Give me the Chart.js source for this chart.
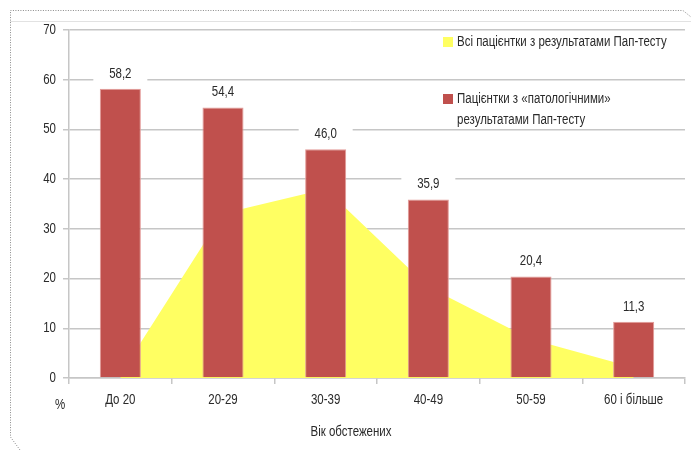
<!DOCTYPE html>
<html>
<head>
<meta charset="utf-8">
<script src="https://cdn.jsdelivr.net/npm/chart.js@4/dist/chart.umd.min.js"></script>
<style>
  html, body { margin: 0; padding: 0; background: #fff; }
  #wrap { width: 691px; height: 450px; }
</style>
</head>
<body>
<div id="wrap"><canvas id="c" width="691" height="450"></canvas></div>
<script>
// Age groups and shares (%) of screened patients
const categories = ['До 20', '20-29', '30-39', '40-49', '50-59', '60 і більше'];
const allPatients = [0.7, 33.1, 38.0, 18.3, 7.8, 2.1];
const abnormalPatients = [58.2, 54.4, 46.0, 35.9, 20.4, 11.3];
const yTicks = [0, 10, 20, 30, 40, 50, 60, 70];
const seriesNames = [
  'Всі пацієнтки з результатами Пап-тесту',
  'Пацієнтки з «патологічними» результатами Пап-тесту'
];
const legendLines = [
  ['Всі пацієнтки з результатами Пап-тесту'],
  ['Пацієнтки з «патологічними»', 'результатами Пап-тесту']
];
const xTitle = 'Вік обстежених';
const yUnit = '%';

const FONT = '14px "Liberation Sans", Arial, sans-serif';
const SQUEEZE = 0.82;          // narrow, condensed-looking lettering
const TEXT = '#2a2a2a';
const GRID = '#c6c6c6';
const YELLOW = '#ffff62';
const RED = '#c0504d';

function condText(ctx, text, x, y, align) {
  ctx.save();
  ctx.translate(x, y);
  ctx.scale(SQUEEZE, 1);
  ctx.textAlign = align;
  ctx.textBaseline = 'middle';
  ctx.fillText(text, 0, 0);
  ctx.restore();
}

// Value labels above bars, each on a white plate
const valueLabels = {
  id: 'valueLabels',
  afterDatasetsDraw(chart) {
    const ctx = chart.ctx;
    const meta = chart.getDatasetMeta(0);
    ctx.save();
    ctx.font = FONT;
    meta.data.forEach((bar, i) => {
      const v = chart.data.datasets[0].data[i];
      const y = bar.y - 15;
      ctx.fillStyle = '#fff';
      ctx.fillRect(bar.x - 27, y - 11, 54, 22);
      ctx.fillStyle = TEXT;
      condText(ctx, v.toFixed(1).replace('.', ','), bar.x, y, 'center');
    });
    ctx.restore();
  }
};

// Frame, tick labels, unit mark, axis title and legend
const decor = {
  id: 'decor',
  beforeDraw(chart) {
    const ctx = chart.ctx;
    ctx.save();
    ctx.fillStyle = '#fff';
    ctx.fillRect(0, 0, chart.width, chart.height);
    ctx.strokeStyle = '#e2e2e2';
    ctx.lineWidth = 1;
    ctx.beginPath();
    ctx.moveTo(10, 21.5); ctx.lineTo(691, 21.5);
    ctx.stroke();
    ctx.strokeStyle = '#8a8a8a';
    ctx.setLineDash([1, 1.5]);
    ctx.beginPath();
    ctx.moveTo(20, 450); ctx.lineTo(10.5, 437); ctx.lineTo(10.5, 10.5);
    ctx.lineTo(683, 10.5); ctx.lineTo(691, 17);
    ctx.stroke();
    ctx.restore();
  },
  afterDraw(chart) {
    const ctx = chart.ctx;
    const xs = chart.scales.x, ys = chart.scales.y;
    ctx.save();
    ctx.fillStyle = TEXT;
    ctx.font = FONT;
    // axis tick labels
    ys.ticks.forEach(t => condText(ctx, String(t.value), ys.right - 13, ys.getPixelForValue(t.value), 'right'));
    chart.data.labels.forEach((lab, i) => condText(ctx, lab, xs.getPixelForValue(i), xs.top + 22, 'center'));
    condText(ctx, yUnit, 60, 405, 'center');
    condText(ctx, xTitle, 351, 432, 'center');
    // legend
    const colors = chart.data.datasets.map(d => d.backgroundColor);
    const rows = [{ y: 42, sw: colors[1] }, { y: 99, sw: colors[0] }];
    rows.forEach((r, i) => {
      ctx.fillStyle = r.sw;
      ctx.fillRect(443, r.y - 5, 10, 10);
      ctx.fillStyle = TEXT;
      legendLines[i].forEach((line, k) => condText(ctx, line, 457, r.y + k * 21, 'left'));
    });
    ctx.restore();
  }
};

new Chart(document.getElementById('c'), {
  data: {
    labels: categories,
    datasets: [
      {
        type: 'bar',
        label: seriesNames[1],
        data: abnormalPatients,
        backgroundColor: RED,
        borderColor: '#e39a98',
        borderWidth: 1,
        barPercentage: 0.4,
        categoryPercentage: 1.0,
        order: 0
      },
      {
        type: 'line',
        label: seriesNames[0],
        data: allPatients,
        backgroundColor: YELLOW,
        borderWidth: 0,
        pointRadius: 0,
        tension: 0,
        fill: 'origin',
        order: 1
      }
    ]
  },
  options: {
    responsive: false,
    animation: false,
    devicePixelRatio: 1,
    layout: { padding: { left: 0, right: 6, top: 30, bottom: 0 } },
    plugins: { legend: { display: false }, tooltip: { enabled: false } },
    scales: {
      x: {
        offset: true,
        afterFit: s => { s.height = 72; },
        grid: { drawOnChartArea: false, offset: true, tickLength: 6, color: GRID, lineWidth: 1.5 },
        border: { display: true, color: GRID, width: 1.5 },
        ticks: { display: false }
      },
      y: {
        min: 0,
        max: 70,
        afterFit: s => { s.width = 69; },
        afterBuildTicks: s => { s.ticks = yTicks.map(v => ({ value: v })); },
        grid: { color: GRID, lineWidth: 1.5, tickLength: 6 },
        border: { display: true, color: GRID, width: 1.5 },
        ticks: { display: false }
      }
    }
  },
  plugins: [decor, valueLabels]
});
</script>
</body>
</html>
